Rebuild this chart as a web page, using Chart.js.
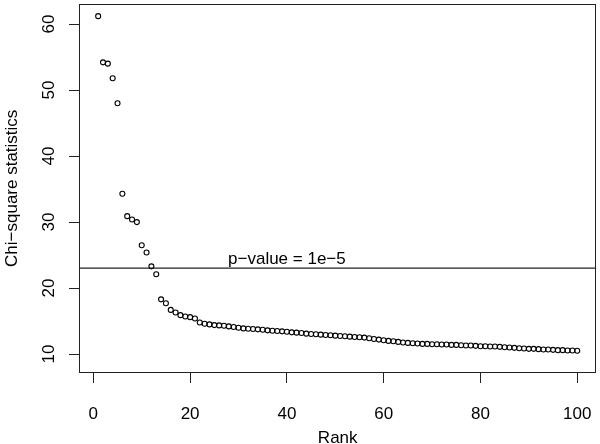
<!DOCTYPE html>
<html>
<head>
<meta charset="utf-8">
<script src="https://cdn.jsdelivr.net/npm/chart.js@4.4.1/dist/chart.umd.min.js"></script>
<style>
  html, body { margin: 0; padding: 0; background: #fff; }
</style>
</head>
<body>
<canvas id="chart" width="600" height="444"></canvas>
<script>
// chi-square statistics, sorted by rank (1..100)
const chiSq = [
  61.2, 54.2, 54.0, 51.8, 48.0, 34.3, 30.9, 30.4, 30.0, 26.5,
  25.4, 23.3, 22.1, 18.3, 17.7, 16.7, 16.3, 15.9, 15.7, 15.6,
  15.4, 14.8, 14.6, 14.5, 14.4, 14.35, 14.3, 14.2, 14.1, 14.0,
  13.9, 13.85, 13.8, 13.75, 13.7, 13.6, 13.55, 13.5, 13.45, 13.4,
  13.3, 13.25, 13.2, 13.1, 13.05, 13.0, 12.95, 12.9, 12.85, 12.8,
  12.75, 12.7, 12.65, 12.6, 12.55, 12.5, 12.4, 12.3, 12.2, 12.1,
  12.0, 11.95, 11.85, 11.75, 11.7, 11.65, 11.6, 11.55, 11.55, 11.5,
  11.5, 11.45, 11.45, 11.4, 11.4, 11.35, 11.3, 11.3, 11.25, 11.2,
  11.2, 11.15, 11.15, 11.1, 11.05, 11.0, 10.95, 10.9, 10.85, 10.8,
  10.8, 10.75, 10.7, 10.7, 10.65, 10.6, 10.6, 10.55, 10.55, 10.5
];
const xTicks = [0, 20, 40, 60, 80, 100];
const yTicks = [10, 20, 30, 40, 50, 60];
const cutoff = 23.03;          // chi-square at p = 1e-5
const cutoffLabel = "p\u2212value = 1e\u22125";
const cutoffLabelX = 40;
const xTitle = "Rank";
const yTitle = "Chi\u2212square statistics";

const FONT = '"Liberation Sans", Arial, Helvetica, sans-serif';
const INK = "#222";

const points = chiSq.map((v, i) => ({ x: i + 1, y: v }));

// R-ish extras: white bg, box, rotated y tick labels, the cutoff label
const rStyle = {
  id: "rStyle",
  beforeDraw(chart) {
    const ctx = chart.ctx;
    ctx.save();
    ctx.fillStyle = "#fff";
    ctx.fillRect(0, 0, chart.width, chart.height);
    ctx.restore();
  },
  afterDraw(chart) {
    const { ctx, chartArea: a, scales: { x, y } } = chart;
    ctx.save();
    ctx.strokeStyle = INK;
    ctx.lineWidth = 1;
    ctx.strokeRect(Math.round(a.left) + 0.5, Math.round(a.top) + 0.5,
      Math.round(a.right - a.left) - 1, Math.round(a.bottom - a.top) - 1);

    ctx.fillStyle = "#000";
    ctx.font = "17px " + FONT;
    ctx.textAlign = "center";
    ctx.textBaseline = "middle";
    yTicks.forEach(v => {
      ctx.save();
      ctx.translate(a.left - 30, y.getPixelForValue(v));
      ctx.rotate(-Math.PI / 2);
      ctx.fillText(String(v), 0, 0);
      ctx.restore();
    });

    ctx.textBaseline = "alphabetic";
    ctx.fillText(cutoffLabel, x.getPixelForValue(cutoffLabelX), y.getPixelForValue(cutoff) - 4);
    ctx.restore();
  }
};

new Chart(document.getElementById("chart"), {
  type: "scatter",
  data: {
    datasets: [
      {
        data: points,
        pointStyle: "circle",
        pointRadius: 2.5,
        pointHoverRadius: 2.5,
        borderWidth: 1.1,
        borderColor: "#000",
        backgroundColor: "rgba(0,0,0,0)"
      },
      {
        type: "line",
        data: [{ x: -2.96, y: cutoff }, { x: 103.96, y: cutoff }],
        borderColor: "#222",
        borderWidth: 1.3,
        pointRadius: 0,
        fill: false
      }
    ]
  },
  options: {
    responsive: false,
    animation: false,
    layout: { padding: { top: 1, right: 0, bottom: 0, left: 0 } },
    plugins: { legend: { display: false }, tooltip: { enabled: false } },
    scales: {
      x: {
        type: "linear",
        min: -2.96,
        max: 103.96,
        afterBuildTicks: s => { s.ticks = xTicks.map(v => ({ value: v })); },
        afterFit: s => { s.height = 71; s.paddingLeft = 0; s.paddingRight = 0; },
        grid: { drawOnChartArea: false, drawTicks: true, tickLength: 10, color: INK },
        border: { display: false },
        ticks: { color: "#000", padding: 21, maxRotation: 0, font: { family: FONT, size: 17 } },
        title: { display: true, text: xTitle, color: "#000", font: { family: FONT, size: 17 },
                 padding: { top: 4, bottom: -5 } }
      },
      y: {
        type: "linear",
        min: 7.14,
        max: 63.1,
        afterBuildTicks: s => { s.ticks = yTicks.map(v => ({ value: v })); },
        afterFit: s => { s.width = 79; s.paddingTop = 0; s.paddingBottom = 0; },
        grid: { drawOnChartArea: false, drawTicks: true, tickLength: 10, color: INK },
        border: { display: false },
        ticks: { display: false },
        title: { display: true, text: yTitle, color: "#000", font: { family: FONT, size: 17 },
                 padding: { top: 1.8, bottom: 46.8 } }
      }
    }
  },
  plugins: [rStyle]
});
</script>
</body>
</html>
